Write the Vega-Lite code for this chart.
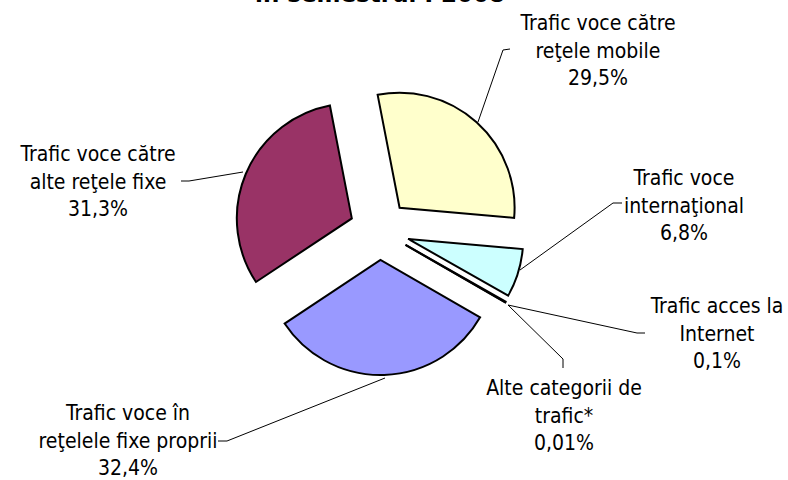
{
  "$schema": "https://vega.github.io/schema/vega-lite/v6.json",
  "width": 788,
  "height": 480,
  "autosize": "none",
  "padding": 0,
  "background": "white",
  "config": {"view": {"stroke": null}},
  "title": {
    "text": "în semestrul I 2008",
    "font": "DejaVu Sans",
    "fontSize": 23,
    "fontWeight": "bold",
    "color": "black",
    "anchor": "middle",
    "offset": -7,
    "dx": -14
  },
  "datasets": {
    "slices": [
      {"cat": "Trafic voce în reţelele fixe proprii", "pct": 32.4, "n": 1},
      {"cat": "Trafic voce către alte reţele fixe", "pct": 31.3, "n": 2},
      {"cat": "Trafic voce către reţele mobile", "pct": 29.5, "n": 3},
      {"cat": "Trafic voce internaţional", "pct": 6.8, "n": 4},
      {"cat": "Trafic acces la Internet", "pct": 0.1, "n": 5},
      {"cat": "Alte categorii de trafic*", "pct": 0.01, "n": 6}
    ],
    "labels": [
      {"text": "Trafic voce în\nreţelele fixe proprii\n32,4%", "lx": 128, "ly": 420},
      {"text": "Trafic voce către\nalte reţele fixe\n31,3%", "lx": 98, "ly": 161},
      {"text": "Trafic voce către\nreţele mobile\n29,5%", "lx": 598, "ly": 30},
      {"text": "Trafic voce\ninternaţional\n6,8%", "lx": 684, "ly": 185},
      {"text": "Trafic acces la\nInternet\n0,1%", "lx": 717, "ly": 313},
      {"text": "Alte categorii de\ntrafic*\n0,01%", "lx": 564, "ly": 395}
    ],
    "leaders": [
      {"g": "a", "k": 1, "x": 385, "y": 378},
      {"g": "a", "k": 2, "x": 227, "y": 441},
      {"g": "a", "k": 3, "x": 218, "y": 441},
      {"g": "b", "k": 1, "x": 243, "y": 172},
      {"g": "b", "k": 2, "x": 189, "y": 181},
      {"g": "b", "k": 3, "x": 181, "y": 181},
      {"g": "c", "k": 1, "x": 478, "y": 122},
      {"g": "c", "k": 2, "x": 503, "y": 50},
      {"g": "c", "k": 3, "x": 510, "y": 49},
      {"g": "d", "k": 1, "x": 520, "y": 270},
      {"g": "d", "k": 2, "x": 613, "y": 203},
      {"g": "d", "k": 3, "x": 622, "y": 203},
      {"g": "e", "k": 1, "x": 508, "y": 305},
      {"g": "e", "k": 2, "x": 637, "y": 333},
      {"g": "e", "k": 3, "x": 645, "y": 333},
      {"g": "f", "k": 1, "x": 508, "y": 305},
      {"g": "f", "k": 2, "x": 563, "y": 359},
      {"g": "f", "k": 3, "x": 563, "y": 368}
    ]
  },
  "layer": [
    {
      "data": {"name": "slices"},
      "mark": {
        "type": "arc",
        "outerRadius": 115,
        "stroke": "black",
        "strokeWidth": 2,
        "strokeJoin": "miter",
        "x": {"expr": "379.5 + 30*sin(scale('theta', (datum.pct_start + datum.pct_end)/2))"},
        "y": {"expr": "230 - 30*cos(scale('theta', (datum.pct_start + datum.pct_end)/2))"}
      },
      "encoding": {
        "theta": {
          "field": "pct",
          "type": "quantitative",
          "stack": true,
          "scale": {"range": [2.0932, 8.3764], "nice": false, "zero": true}
        },
        "order": {"field": "n", "type": "quantitative"},
        "color": {
          "field": "cat",
          "type": "nominal",
          "legend": null,
          "scale": {
            "domain": [
              "Trafic voce în reţelele fixe proprii",
              "Trafic voce către alte reţele fixe",
              "Trafic voce către reţele mobile",
              "Trafic voce internaţional",
              "Trafic acces la Internet",
              "Alte categorii de trafic*"
            ],
            "range": ["#9999FF", "#993366", "#FFFFCC", "#CCFFFF", "#660066", "#FF8080"]
          }
        }
      }
    },
    {
      "data": {"name": "leaders"},
      "mark": {"type": "line", "color": "black", "strokeWidth": 1},
      "encoding": {
        "x": {"field": "x", "type": "quantitative", "scale": {"domain": [0, 788], "nice": false, "zero": false}, "axis": null},
        "y": {"field": "y", "type": "quantitative", "scale": {"domain": [0, 480], "nice": false, "zero": false, "reverse": true}, "axis": null},
        "detail": {"field": "g", "type": "nominal"},
        "order": {"field": "k", "type": "quantitative"}
      }
    },
    {
      "data": {"name": "labels"},
      "mark": {
        "type": "text",
        "lineBreak": "\n",
        "font": "DejaVu Sans Condensed",
        "fontSize": 21,
        "lineHeight": 27.5,
        "align": "center",
        "baseline": "alphabetic",
        "color": "black"
      },
      "encoding": {
        "x": {"field": "lx", "type": "quantitative", "scale": {"domain": [0, 788], "nice": false, "zero": false}, "axis": null},
        "y": {"field": "ly", "type": "quantitative", "scale": {"domain": [0, 480], "nice": false, "zero": false, "reverse": true}, "axis": null},
        "text": {"field": "text", "type": "nominal"}
      }
    }
  ]
}
